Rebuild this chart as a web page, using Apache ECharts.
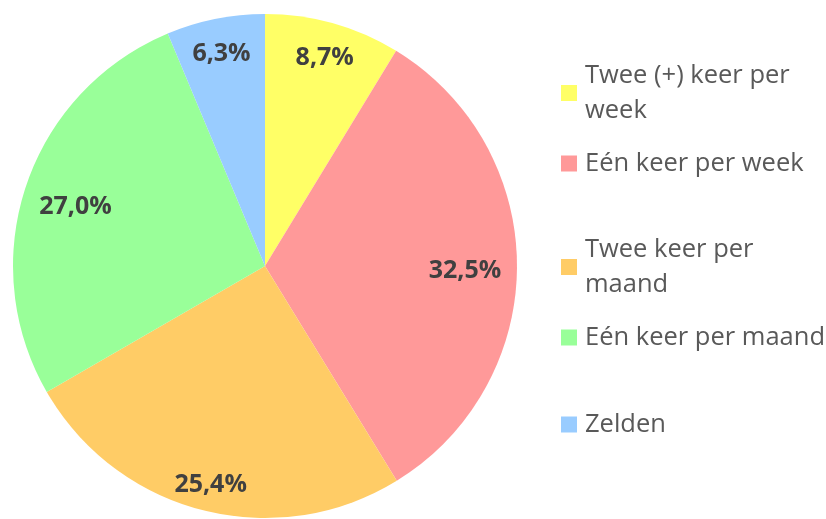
<!DOCTYPE html>
<html lang="nl">
<head>
    <meta charset="UTF-8">
    <title>Frequentie</title>
    <style>
        html, body { margin: 0; padding: 0; background: #fff; }
        #main { width: 826px; height: 519px; }
    </style>
</head>
<body>
<div id="main"></div>
<script src="https://cdn.jsdelivr.net/npm/echarts@6/dist/echarts.min.js"></script>
<script>
    // data
    const categories = ['Twee (+) keer per week', 'Eén keer per week', 'Twee keer per maand', 'Eén keer per maand', 'Zelden'];
    const percentages = [8.7, 32.5, 25.4, 27.0, 6.3];
    const colors = ['#FFFF66', '#FF9999', '#FFCC66', '#99FF99', '#99CCFF'];

    // legend text with manual line breaks like the original
    const legendText = {
        'Twee (+) keer per week': 'Twee (+) keer per\nweek',
        'Twee keer per maand': 'Twee keer per\nmaand'
    };

    const fontFamily = '"Open Sans", sans-serif';
    const lineH = 35;
    const legendCenters = [75, 162, 249, 336, 423];

    let pieData = [];
    for (let i = 0; i < categories.length; i++) {
        pieData.push({ name: categories[i], value: percentages[i], itemStyle: { color: colors[i] } });
    }

    // transparent copy of the pie, only used to place labels at a given distance
    function labelSeries(radius, idxList) {
        return {
            type: 'pie',
            silent: true,
            radius: radius,
            center: [265, 266],
            startAngle: 90,
            clockwise: true,
            labelLine: { show: false },
            data: pieData.map((d, i) => ({
                name: d.name,
                value: d.value,
                itemStyle: { color: 'rgba(0,0,0,0)' },
                label: { show: idxList.indexOf(i) >= 0 }
            })),
            label: {
                position: 'inside',
                fontFamily: fontFamily,
                fontWeight: 'bold',
                fontSize: 25,
                color: '#404040',
                offset: [0, 5],
                formatter: p => p.value.toFixed(1).replace('.', ',') + '%'
            }
        };
    }

    let legends = [];
    for (let i = 0; i < categories.length; i++) {
        const multi = !!legendText[categories[i]];
        legends.push({
            data: [categories[i]],
            left: 561,
            top: legendCenters[i] - (multi ? 34.5 : 16),
            padding: 0,
            icon: 'rect',
            itemWidth: 16,
            itemHeight: 16,
            itemGap: 0,
            selectedMode: false,
            formatter: name => legendText[name] || name,
            textStyle: {
                fontFamily: fontFamily,
                fontSize: 25.5,
                color: '#595959',
                lineHeight: lineH,
                padding: multi ? [lineH, 0, 0, 3] : [0, 0, 0, 3]
            }
        });
    }

    let myChart = echarts.init(document.getElementById('main'));
    let option = {
        animation: false,
        legend: legends,
        series: [
            {
                name: 'Frequentie',
                type: 'pie',
                radius: 252,
                center: [265, 266],
                startAngle: 90,
                clockwise: true,
                label: { show: false },
                labelLine: { show: false },
                data: pieData
            },
            labelSeries([176, 260], [0, 2, 4]),
            labelSeries([154, 240], [1, 3])
        ]
    };
    myChart.setOption(option);
</script>
</body>
</html>
